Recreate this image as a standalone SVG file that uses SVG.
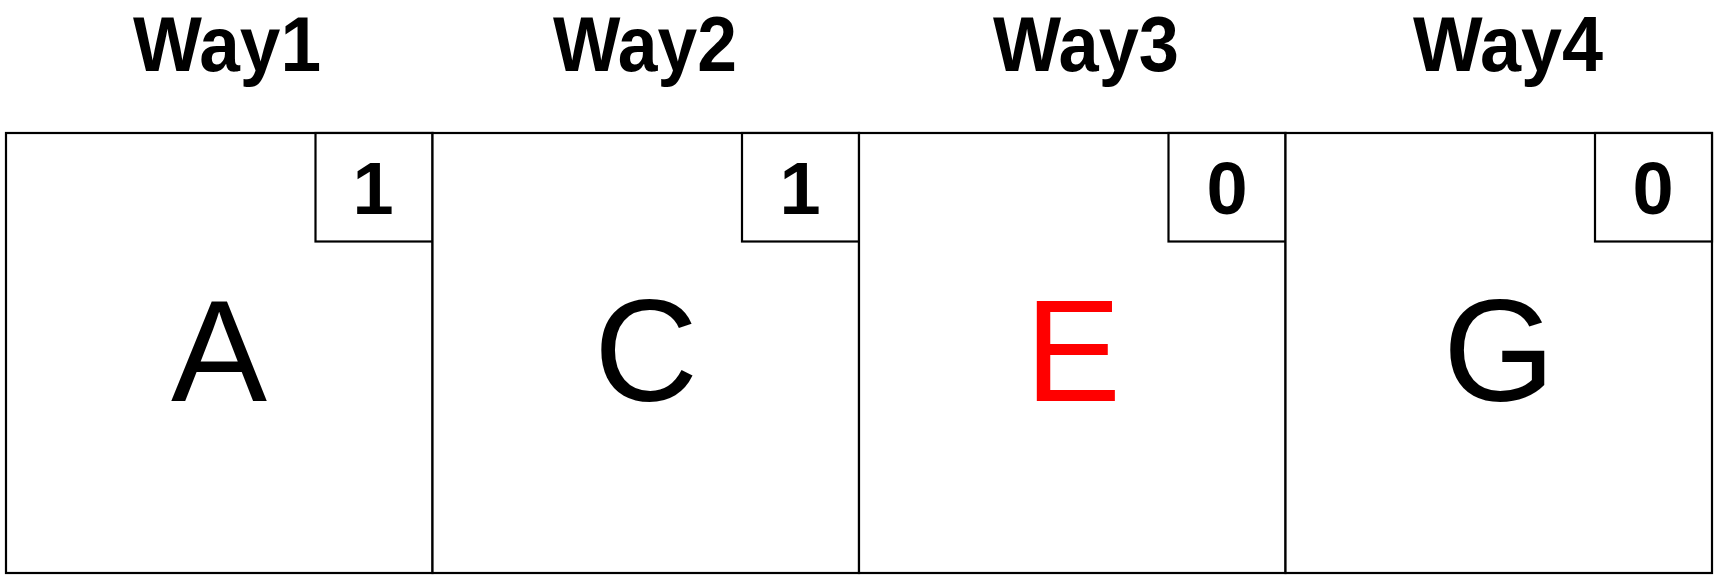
<svg xmlns="http://www.w3.org/2000/svg" width="1717" height="577" viewBox="0 0 1717 577">
<style>
.cell{fill:#fff;stroke:#000;stroke-width:2.2}
.hdr{font-family:"Liberation Sans",Arial,sans-serif;font-weight:bold;font-size:77px;fill:#000}
.cnt{font-family:"Liberation Sans",Arial,sans-serif;font-weight:bold;font-size:74px;fill:#000;text-anchor:middle}
.big{font-family:"Liberation Sans",Arial,sans-serif;font-size:144px;fill:#000;text-anchor:middle}
</style>
<rect width="1717" height="577" fill="#fff"/>
<g id="headers">
<text class="hdr" x="133" y="71" textLength="188" lengthAdjust="spacingAndGlyphs">Way1</text>
<text class="hdr" x="553" y="71" textLength="184" lengthAdjust="spacingAndGlyphs">Way2</text>
<text class="hdr" x="993" y="71" textLength="186" lengthAdjust="spacingAndGlyphs">Way3</text>
<text class="hdr" x="1413" y="71" textLength="190" lengthAdjust="spacingAndGlyphs">Way4</text>
</g>
<g id="way1">
<rect class="cell" x="6" y="133" width="426.5" height="440"/>
<rect class="cell" x="315.5" y="133" width="117" height="108.5"/>
<text class="cnt" x="373" y="214">1</text>
<text class="big" x="219" y="401">A</text>
</g>
<g id="way2">
<rect class="cell" x="432.5" y="133" width="426.5" height="440"/>
<rect class="cell" x="742" y="133" width="117" height="108.5"/>
<text class="cnt" x="800" y="214">1</text>
<text class="big" x="646" y="401">C</text>
</g>
<g id="way3">
<rect class="cell" x="859" y="133" width="426.5" height="440"/>
<rect class="cell" x="1168.5" y="133" width="117" height="108.5"/>
<text class="cnt" x="1227" y="214">0</text>
<text class="big" x="1073" y="401" fill="#ff0000" style="fill:#ff0000">E</text>
</g>
<g id="way4">
<rect class="cell" x="1285.5" y="133" width="426.5" height="440"/>
<rect class="cell" x="1595" y="133" width="117" height="108.5"/>
<text class="cnt" x="1653" y="214">0</text>
<text class="big" x="1499" y="401">G</text>
</g>
<g id="connectors"/>
</svg>
